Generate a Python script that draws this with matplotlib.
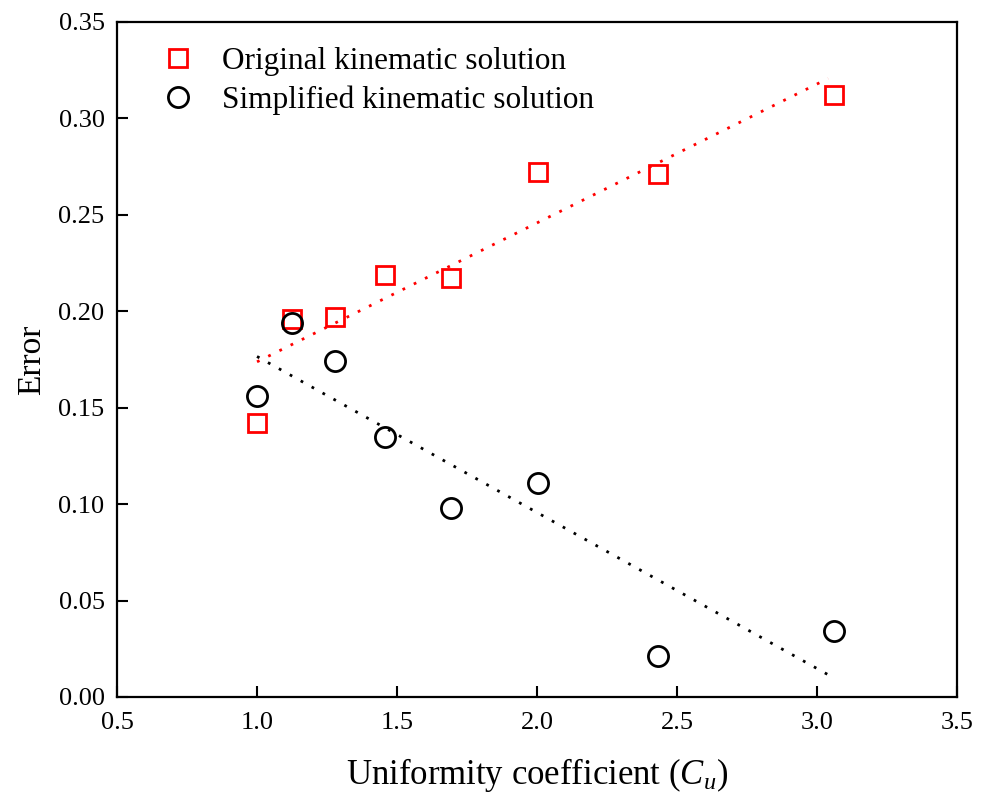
import numpy as np
import matplotlib
matplotlib.use("Agg")
import matplotlib.pyplot as plt

# Uniformity coefficient of each sample and the error of the two solutions
cu = [1.00, 1.126, 1.277, 1.457, 1.693, 2.004, 2.432, 3.061]
err_original = [0.142, 0.196, 0.197, 0.219, 0.217, 0.272, 0.271, 0.312]
err_simplified = [0.156, 0.194, 0.174, 0.135, 0.098, 0.111, 0.021, 0.034]

xticks = [0.5, 1.0, 1.5, 2.0, 2.5, 3.0, 3.5]
yticks = [0.00, 0.05, 0.10, 0.15, 0.20, 0.25, 0.30, 0.35]

plt.rcParams.update({
    "font.family": "serif",
    "font.serif": ["Liberation Serif", "Times New Roman", "DejaVu Serif"],
    "mathtext.fontset": "custom",
    "mathtext.it": "Liberation Serif:italic",
    "mathtext.rm": "Liberation Serif",
})

fig = plt.figure(figsize=(9.81, 8.05), dpi=100)
ax = fig.add_axes([0.1193, 0.1342, 0.8562, 0.8385])

x = np.array(cu)
ax.plot(x, err_original, linestyle="none", marker="s", ms=13, mfc="none",
        mec="#ff0000", mew=2.0, label="Original kinematic solution")
ax.plot(x, err_simplified, linestyle="none", marker="o", ms=14.5, mfc="none",
        mec="black", mew=2.0, label="Simplified kinematic solution")

# linear trend lines
xfit = np.linspace(x.min(), 3.04, 50)
for ys, col in [(err_original, "#ff0000"), (err_simplified, "black")]:
    k, b = np.polyfit(x, ys, 1)
    ax.plot(xfit, k * xfit + b, color=col, linestyle=(0, (1, 3.5)), lw=2.0)

ax.set_xlim(0.5, 3.5)
ax.set_ylim(0, 0.35)
ax.set_xticks(xticks)
ax.set_xticklabels([f"{v:.1f}" for v in xticks])
ax.set_yticks(yticks)
ax.set_yticklabels([f"{v:.2f}" for v in yticks])
ax.tick_params(direction="in", length=8, width=1.5, labelsize=19,
               top=False, right=False, pad=9)
ax.tick_params(axis="x", pad=11)
for sp in ax.spines.values():
    sp.set_linewidth(1.6)

ax.set_xlabel(r"Uniformity coefficient ($C_u$)", fontsize=25, labelpad=16)
ax.set_ylabel("Error", fontsize=24, labelpad=8)

ax.legend(loc="upper left", frameon=False, fontsize=22.5, handletextpad=0.4,
          borderaxespad=0.0, labelspacing=0.3, bbox_to_anchor=(0.021, 0.982))

fig.savefig("out.png", dpi=100)
